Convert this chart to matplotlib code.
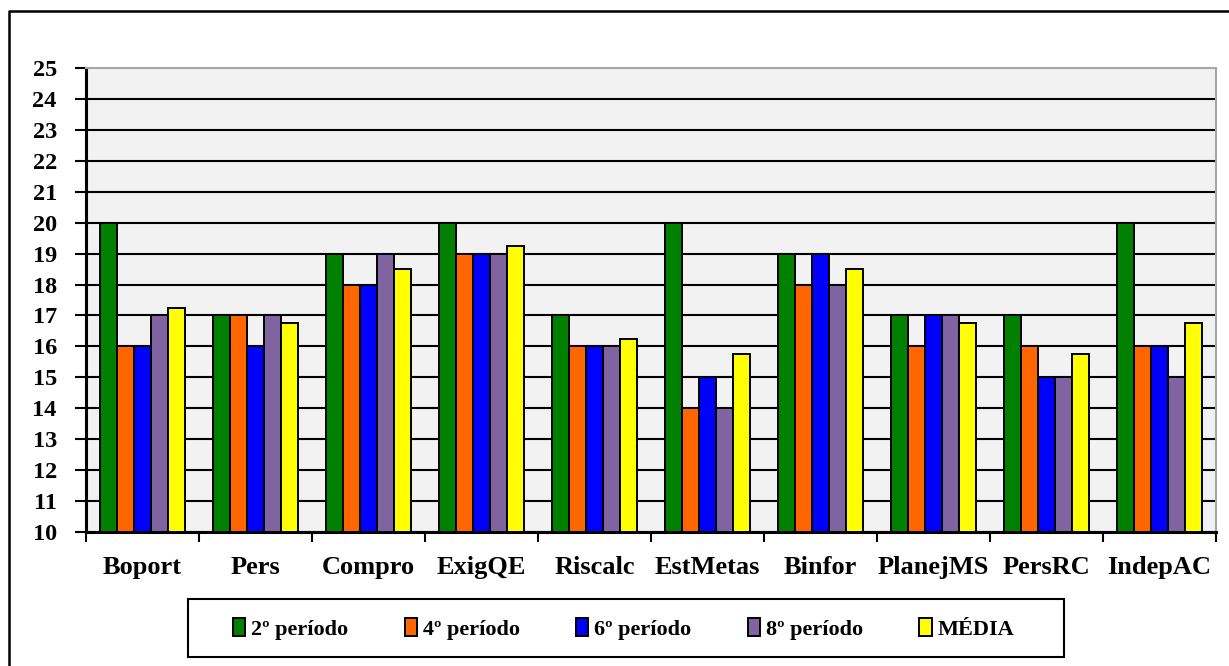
import numpy as np
import matplotlib.pyplot as plt
from matplotlib.patches import Rectangle
from matplotlib.lines import Line2D

categorias = ['Boport', 'Pers', 'Compro', 'ExigQE', 'Riscalc',
              'EstMetas', 'Binfor', 'PlanejMS', 'PersRC', 'IndepAC']
periodo2 = [20, 17, 19, 20, 17, 20, 19, 17, 17, 20]
periodo4 = [16, 17, 18, 19, 16, 14, 18, 16, 16, 16]
periodo6 = [16, 16, 18, 19, 16, 15, 19, 17, 15, 16]
periodo8 = [17, 17, 19, 19, 16, 14, 18, 17, 15, 15]
media = [17.25, 16.75, 18.5, 19.25, 16.25, 15.75, 18.5, 16.75, 15.75, 16.75]

series = [
    ('2º período', periodo2, '#008000'),
    ('4º período', periodo4, '#FF6600'),
    ('6º período', periodo6, '#0000FF'),
    ('8º período', periodo8, '#8064A2'),
    ('MÉDIA', media, '#FFFF00'),
]

plt.rcParams['font.family'] = ['Liberation Serif', 'DejaVu Serif']
plt.rcParams['font.weight'] = 'bold'

W, H = 1229, 666
fig = plt.figure(figsize=(W / 100, H / 100), dpi=100)
ax = fig.add_axes([86 / W, 1 - 532 / H, (1216 - 86) / W, (532 - 68) / H])
ax.set_facecolor('#F2F2F2')

x = np.arange(len(categorias))
bw = 0.152
for i, (nome, vals, cor) in enumerate(series):
    ax.bar(x + (i - 2) * bw, np.array(vals) - 10, bw, bottom=10, color=cor,
           edgecolor='black', linewidth=1.4, label=nome, zorder=3)

ax.set_ylim(10, 25)
ax.set_xlim(-0.5, len(categorias) - 0.5)
ax.set_yticks(range(10, 26))
ax.grid(axis='y', color='black', linewidth=1.5, zorder=1)
ax.get_ygridlines()[-1].set_visible(False)
ax.set_axisbelow(True)

ax.set_xticks(np.arange(-0.5, len(categorias), 1))
ax.set_xticklabels([])
ax.set_xticks(x, minor=True)
ax.set_xticklabels(categorias, minor=True, fontsize=19, fontweight='bold')
ax.tick_params(axis='x', which='minor', length=0, pad=17)
ax.tick_params(axis='x', which='major', direction='out', length=7, width=1.5)
ax.tick_params(axis='y', direction='out', length=8, width=1.5,
               labelsize=17.5, pad=13)
for lbl in ax.get_yticklabels():
    lbl.set_fontweight('bold')

for s in ['left', 'bottom']:
    ax.spines[s].set_linewidth(2.2)
    ax.spines[s].set_color('black')
for s in ['top', 'right']:
    ax.spines[s].set_linewidth(1.5)
    ax.spines[s].set_color('#A6A6A6')

# moldura externa do gráfico
fig.add_artist(Line2D([9 / W, 9 / W, 1], [0, 1 - 11 / H, 1 - 11 / H],
                      transform=fig.transFigure, color='black', linewidth=1.8))

# caixa da legenda
fig.add_artist(Rectangle((188 / W, 1 - 657 / H), (1064 - 188) / W, (657 - 599) / H,
                         transform=fig.transFigure, fill=False,
                         edgecolor='black', linewidth=1.5))
leg = fig.legend(loc='center', bbox_to_anchor=((188 + 1064) / 2 / W - 0.002, 1 - 629 / H),
                 ncol=5, frameon=False, fontsize=16, handlelength=0.55,
                 handleheight=0.85, handletextpad=0.25, columnspacing=2.55)
for t in leg.get_texts():
    t.set_fontweight('bold')

fig.savefig('out.png', dpi=100)
